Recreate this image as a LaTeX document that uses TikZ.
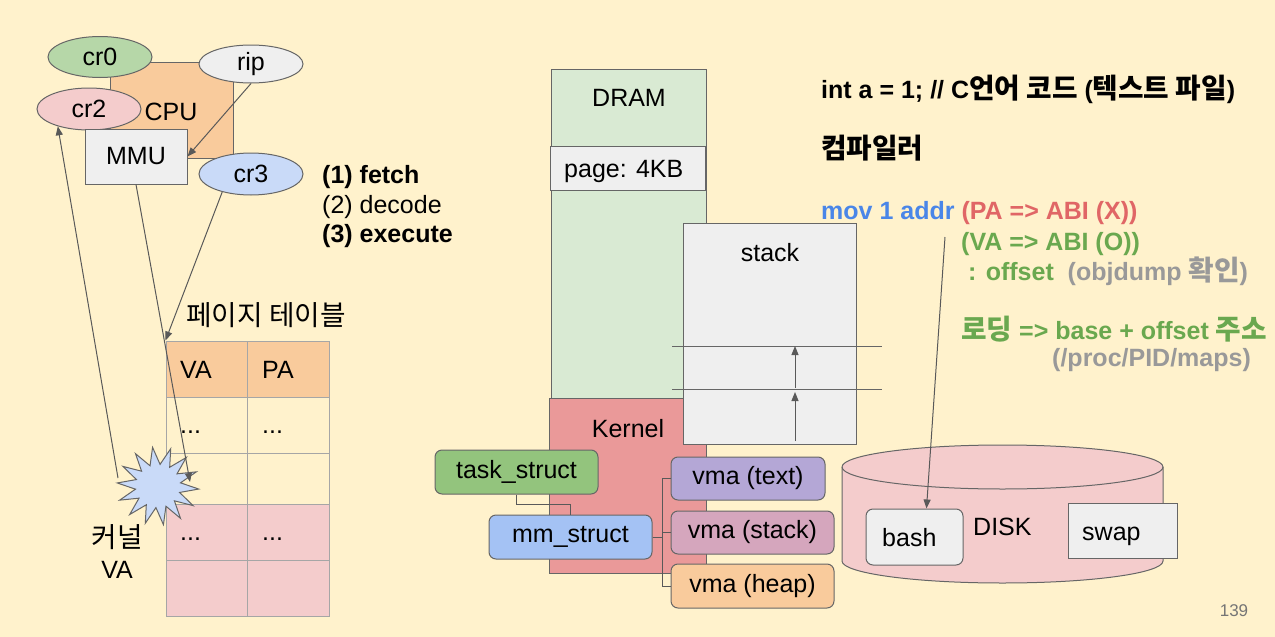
\documentclass[tikz,border=0pt]{standalone}
\usepackage{fontspec}
\setmainfont{Liberation Sans}
\newfontfamily\kr[Scale=1.11]{Noto Sans CJK KR}
\usetikzlibrary{shapes.geometric,arrows.meta}
\definecolor{bg}{HTML}{FFF2CC}
\definecolor{bord}{HTML}{666666}
\definecolor{lin}{HTML}{595959}
\definecolor{cellb}{HTML}{A6A6A6}
\definecolor{orangec}{HTML}{F9CB9C}
\definecolor{greenc}{HTML}{B6D7A8}
\definecolor{greyc}{HTML}{EFEFEF}
\definecolor{pinkc}{HTML}{F4CCCC}
\definecolor{bluec}{HTML}{C9DAF8}
\definecolor{dramc}{HTML}{D9EAD3}
\definecolor{kernc}{HTML}{EA9999}
\definecolor{taskc}{HTML}{93C47D}
\definecolor{mmc}{HTML}{A4C2F4}
\definecolor{vtc}{HTML}{B4A7D6}
\definecolor{vsc}{HTML}{D5A6BD}
\definecolor{tblue}{HTML}{4A86E8}
\definecolor{tred}{HTML}{E06666}
\definecolor{tgreen}{HTML}{6AA84F}
\definecolor{tgrey}{HTML}{999999}
\definecolor{pgnum}{HTML}{757575}
\begin{document}
\begin{tikzpicture}[x=1pt,y=-1pt,
  font=\fontsize{25pt}{29pt}\selectfont,
  box/.style={draw=bord, line width=1pt, inner sep=0pt, text=black},
  ell/.style={box, ellipse, minimum width=104pt, minimum height=41pt},
  rbox/.style={box, rounded corners=7pt},
  cell/.style={draw=cellb, line width=1pt, inner sep=0pt},
  txt/.style={inner sep=0pt},
  arr/.style={draw=lin, line width=1pt, -{Triangle[length=9pt,width=7pt]}},
  conn/.style={draw=lin, line width=1pt}]
\fill[bg] (0,0) rectangle (1275,637);
\useasboundingbox (0,0) rectangle (1275,637);

% CPU block
\node[box, fill=orangec, minimum width=123pt, minimum height=96pt] (cpu) at (171.5,110) {};
\node[txt] (cput) at (171,112) {CPU};
\node[ell, fill=greenc] (cr0) at (100,57) {cr0};
\node[ell, fill=greyc, minimum height=38pt] (rip) at (251,64) {rip};
\node[ell, fill=pinkc, minimum height=42pt] (cr2) at (89,109) {cr2};
\node[box, fill=greyc, minimum width=102pt, minimum height=55pt] (mmu) at (136,156.5) {MMU};
\node[ell, fill=bluec, minimum height=42pt] (cr3) at (251,174) {cr3};

\node[txt, anchor=base west] (s1) at (322,183) {\bfseries (1) fetch};
\node[txt, anchor=base west] (s2) at (322,213) {(2) decode};
\node[txt, anchor=base west] (s3) at (322,242) {\bfseries (3) execute};

% page table
\node[txt, anchor=base west] (ptl) at (186,325) {\kr 페이지 테이블};
\node[cell, fill=orangec, minimum width=81pt, minimum height=56pt] (h1) at (206.5,369) {};
\node[cell, fill=orangec, minimum width=82pt, minimum height=56pt] (h2) at (288,369) {};
\node[cell, minimum width=81pt, minimum height=56pt] (a1) at (206.5,425) {};
\node[cell, minimum width=82pt, minimum height=56pt] (a2) at (288,425) {};
\node[cell, minimum width=81pt, minimum height=51pt] (b1) at (206.5,478.5) {};
\node[cell, minimum width=82pt, minimum height=51pt] (b2) at (288,478.5) {};
\node[cell, fill=pinkc, minimum width=81pt, minimum height=56pt] (c1) at (206.5,532) {};
\node[cell, fill=pinkc, minimum width=82pt, minimum height=56pt] (c2) at (288,532) {};
\node[cell, fill=pinkc, minimum width=81pt, minimum height=56pt] (d1) at (206.5,588) {};
\node[cell, fill=pinkc, minimum width=82pt, minimum height=56pt] (d2) at (288,588) {};
\node[txt, anchor=base west] (th1) at (180,378) {VA};
\node[txt, anchor=base west] (th2) at (262,378) {PA};
\node[txt, anchor=base west] (ta1) at (180,433) {...};
\node[txt, anchor=base west] (ta2) at (262,433) {...};
\node[txt, anchor=base west] (tc1) at (180,540) {...};
\node[txt, anchor=base west] (tc2) at (262,540) {...};

\node[txt, anchor=base] (kv1) at (117,547) {\kr 커널};
\node[txt, anchor=base] (kv2) at (117,578) {VA};

% burst
\node[star, star points=14, star point ratio=1.8, fill=bluec, draw=bord, line width=1pt, minimum size=78pt, inner sep=0pt, rotate=8, xscale=1.05] (burst) at (158,486) {};
\coordinate (burstL) at (118,478);
\coordinate (burstR) at (190,482);

% arrows on the left
\draw[arr] (rip.south) -- (mmu.east);
\draw[arr] (cr3.212) -- (h1.north west);
\draw[arr] (mmu.south) -- (burstR);
\draw[arr] (burstL) -- (cr2.209);

% memory column
\node[box, fill=dramc, minimum width=155pt, minimum height=329pt] (dram) at (628.5,233.5) {};
\node[txt, anchor=base] (dramt) at (629,106) {DRAM};
\node[box, fill=greyc, minimum width=155pt, minimum height=44pt] (page) at (627.5,168) {};
\node[txt, anchor=base west] (paget) at (564,177) {page: 4KB};
\node[box, fill=kernc, minimum width=157pt, minimum height=175pt] (kern) at (627.5,485.5) {};
\node[txt, anchor=base] (kernt) at (628,437) {Kernel};
\node[box, fill=greyc, minimum width=173pt, minimum height=221pt] (stack) at (769.5,333.5) {};
\node[txt, anchor=base] (stackt) at (770,261) {stack};
\draw[conn, draw=bord] (672,346) -- (882,346);
\draw[conn, draw=bord] (672,389) -- (882,389);
\coordinate (sa0) at (795,441);
\coordinate (sa1) at (795,392);
\coordinate (sa2) at (795,388);
\coordinate (sa3) at (795,346);
\draw[arr] (sa0) -- (sa1);
\draw[arr] (sa2) -- (sa3);

% kernel structures
\node[rbox, fill=taskc, minimum width=163pt, minimum height=44pt] (task) at (516.5,472) {task\_struct};
\node[rbox, fill=mmc, minimum width=163pt, minimum height=44pt] (mm) at (570.5,537) {mm\_struct};
\node[rbox, fill=vtc, minimum width=154pt, minimum height=43pt] (vt) at (748,478.5) {vma (text)};
\node[rbox, fill=vsc, minimum width=163pt, minimum height=43pt] (vs) at (752.5,532.5) {vma (stack)};
\node[rbox, fill=orangec, minimum width=163pt, minimum height=44pt] (vh) at (752.5,586) {vma (heap)};
\draw[conn] (task.south) -- ++(0,10) -| (mm.north);
\draw[conn] (mm.east) -- ++(10,0) |- (vt.west);
\draw[conn] (mm.east) -- ++(10,0) |- (vs.west);
\draw[conn] (mm.east) -- ++(10,0) |- (vh.west);

% disk
\path[fill=pinkc, draw=bord, line width=1pt] (842,467) -- (842,561)
  arc[start angle=180, end angle=360, x radius=160.5pt, y radius=22pt]
  -- (1163,467)
  arc[start angle=0, end angle=180, x radius=160.5pt, y radius=22pt] -- cycle;
\draw[draw=bord, line width=1pt] (842,467) arc[start angle=180, end angle=360, x radius=160.5pt, y radius=22pt];
\node[txt, anchor=base west] (diskt) at (973,535) {DISK};
\node[rbox, fill=greyc, minimum width=97pt, minimum height=56pt] (bash) at (914.5,537) {};
\node[txt, anchor=base west] (basht) at (882,546) {bash};
\node[box, fill=greyc, minimum width=109pt, minimum height=55pt] (swap) at (1122.5,530.5) {};
\node[txt, anchor=base west] (swapt) at (1082,540) {swap};

% right text
\node[txt, anchor=base west] (l1) at (821,98) {\bfseries int a = 1; // C{\kr 언어 코드} ({\kr 텍스트 파일})};
\node[txt, anchor=base west] (l2) at (821,158) {\bfseries\kr 컴파일러};
\node[txt, anchor=base west] (l3) at (821,219) {\bfseries\textcolor{tblue}{mov 1 addr} \textcolor{tred}{(PA => ABI (X))}};
\node[txt, anchor=base west] (l4) at (961,250) {\bfseries\textcolor{tgreen}{(VA => ABI (O))}};
\node[txt, anchor=base west] (l5) at (968,280) {\bfseries\textcolor{tgreen}{: offset}\ \ \textcolor{tgrey}{(objdump {\kr 확인})}};
\node[txt, anchor=base west] (l6) at (961,339) {\bfseries\color{tgreen}{\kr 로딩} => base + offset {\kr 주소}};
\node[txt, anchor=base west] (l7) at (1052,366) {\bfseries\color{tgrey}(/proc/PID/maps)};
\coordinate (ptr) at (945,237);
\draw[arr] (ptr) -- ([xshift=12pt]bash.north);

\node[txt, text=pgnum, font=\fontsize{17pt}{20pt}\selectfont] (pg) at (1234,611) {139};
\end{tikzpicture}
\end{document}
